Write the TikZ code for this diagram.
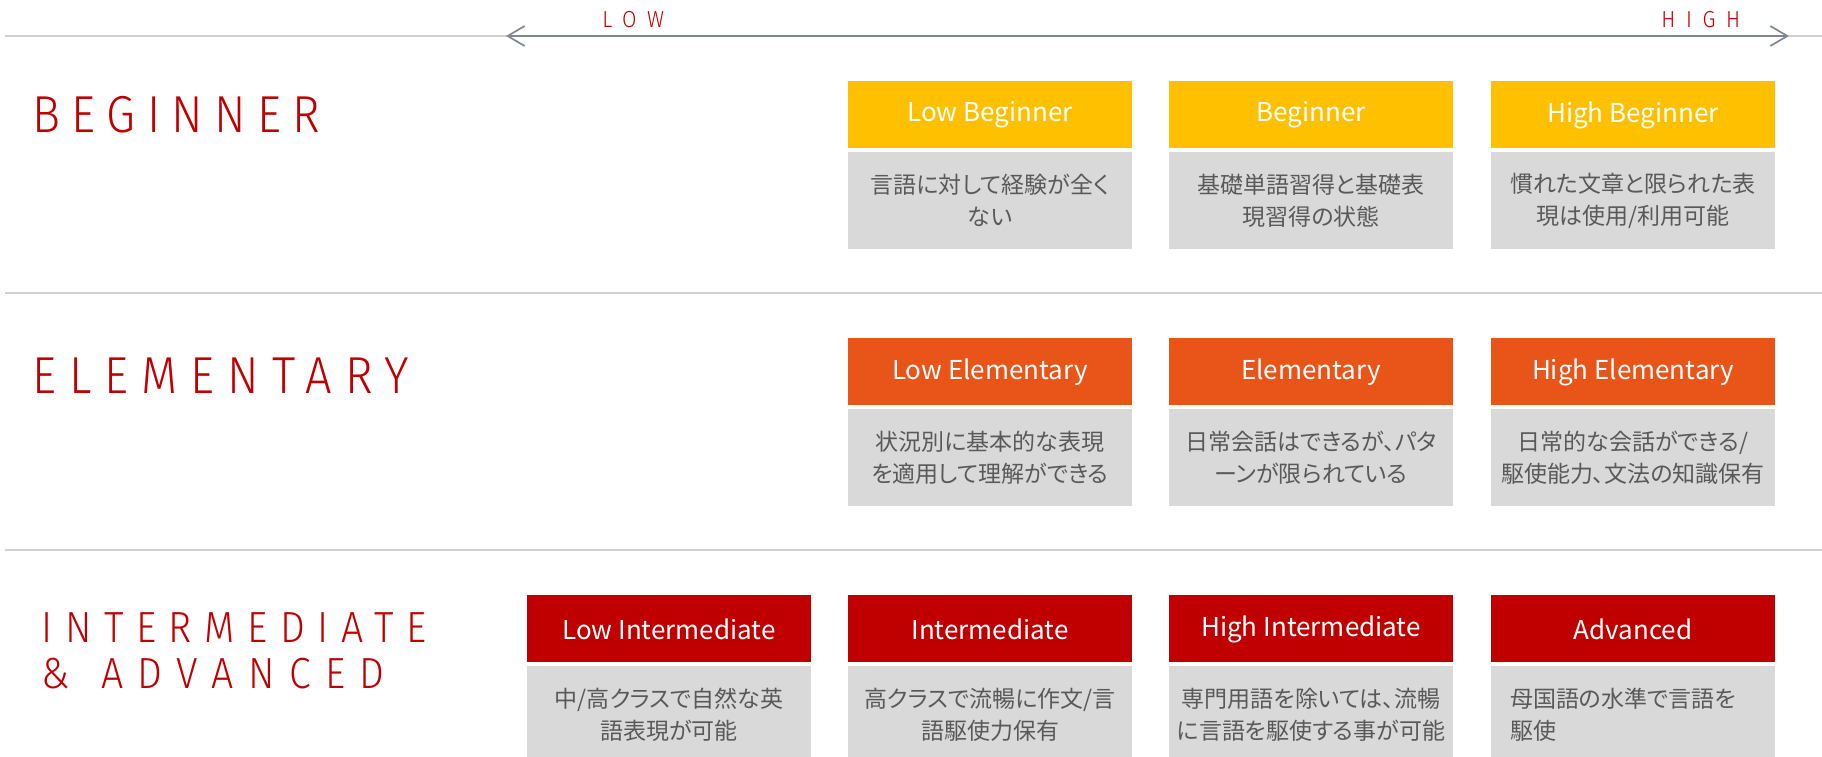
\documentclass[tikz,border=0pt]{standalone}
\usepackage{fontspec}
\usepackage{xcolor}
\usetikzlibrary{arrows.meta}
\newfontfamily\titlefont{Fira Sans Light}[FakeStretch=0.9,LetterSpace=22]
\newfontfamily\widetitlefont{Fira Sans Light}[FakeStretch=0.9,LetterSpace=25]
\newfontfamily\intertitlefont{Fira Sans Light}[FakeStretch=0.9,LetterSpace=29]
\newfontfamily\advtitlefont{Fira Sans Light}[FakeStretch=0.9,LetterSpace=33]
\newfontfamily\scalefont{Fira Sans Light}[FakeStretch=0.9,LetterSpace=46]
\newfontfamily\jpfont{Noto Sans CJK JP}[RawFeature=+palt]
\definecolor{beginyellow}{RGB}{255,192,0}
\definecolor{elemorange}{RGB}{233,85,24}
\definecolor{interred}{RGB}{192,0,0}
\definecolor{titlered}{RGB}{192,0,0}
\definecolor{descgray}{RGB}{217,217,217}
\definecolor{desctext}{RGB}{89,89,89}
\definecolor{rulegray}{RGB}{208,208,208}
\definecolor{arrowgray}{RGB}{127,136,146}
\newcommand{\levelcard}[7][]{
    % #1 = extra description style, #2 = node name, #3 = x centre, #4 = y top
    % #5 = header colour, #6 = header text, #7 = description
    \node[levelhead,fill=#5,anchor=north] (#2) at (#3,#4) {#6};
    \node[leveldesc,anchor=north,#1] (#2-desc) at ([yshift=-1.5pt]#2.south) {#7};
}

\begin{document}
\begin{tikzpicture}[x=0.5pt,y=-0.5pt,
    levelhead/.style={minimum width=142pt,minimum height=33.5pt,inner sep=0pt,
        text=white,font=\jpfont\fontsize{13}{15}\selectfont},
    leveldesc/.style={fill=descgray,minimum width=142pt,minimum height=48.5pt,inner sep=0pt,
        text=desctext,align=center,font=\jpfont\fontsize{11.5}{16}\selectfont},
    rowtitle/.style={anchor=base west,inner sep=0pt,text=titlered,
        font=\titlefont\fontsize{26}{30}\selectfont},
    intertitle/.style={anchor=base west,inner sep=0pt,text=titlered,
        font=\intertitlefont\fontsize{21.8}{23}\selectfont},
    scalelabel/.style={anchor=base west,inner sep=0pt,text=titlered,
        font=\scalefont\fontsize{11.6}{13}\selectfont},
    scalearrow/.style={arrowgray,line width=0.85pt,
        {Straight Barb[length=8.5pt,width=10pt]}-{Straight Barb[length=8.5pt,width=10pt]}}]

\clip (0,0) rectangle (1822,756);

% Row separators
\foreach \y in {36,293,550}
    \draw[rulegray,line width=0.8pt] (5,\y) -- (1822,\y);

% Low to high scale
\coordinate (lowend) at (506,36);
\coordinate (highend) at (1789,36);
\draw[scalearrow] (lowend) -- (highend);
\node[scalelabel] (lowlabel) at (602,27) {LOW};
\node[scalelabel] (highlabel) at (1661,27) {HIGH};

% Row titles
\node[rowtitle] (begintitle) at (32,132) {BEGINNER};
\node[rowtitle,font=\widetitlefont\fontsize{26}{30}\selectfont] (elemtitle) at (32,393) {ELEMENTARY};
\node[intertitle] (intertitle) at (41,642) {INTERMEDIATE};
\node[intertitle,font=\advtitlefont\fontsize{21.8}{23}\selectfont] (advtitle) at (41,688) {\&\hspace{3pt} ADVANCED};

% Beginner
\levelcard{lowbeg}{990}{81}{beginyellow}{Low Beginner}{言語に対して経験が全く\\ない}
\levelcard{beg}{1311}{81}{beginyellow}{Beginner}{基礎単語習得と基礎表\\現習得の状態}
\levelcard{highbeg}{1633}{81}{beginyellow}{High Beginner}{慣れた文章と限られた表\\現は使用/利用可能}

% Elementary
\levelcard{lowelem}{990}{338}{elemorange}{Low Elementary}{状況別に基本的な表現\\を適用して理解ができる}
\levelcard{elem}{1311}{338}{elemorange}{Elementary}{日常会話はできるが、パタ\\ーンが限られている}
\levelcard{highelem}{1633}{338}{elemorange}{High Elementary}{日常的な会話ができる/\\駆使能力、文法の知識保有}

% Intermediate and advanced
\levelcard{lowinter}{669}{595}{interred}{Low Intermediate}{中/高クラスで自然な英\\語表現が可能}
\levelcard{inter}{990}{595}{interred}{Intermediate}{高クラスで流暢に作文/言\\語駆使力保有}
\levelcard{highinter}{1311}{595}{interred}{High Intermediate}{専門用語を除いては、流暢\\に言語を駆使する事が可能}
\levelcard[align=left,text width=123pt]{adv}{1633}{595}{interred}{Advanced}{母国語の水準で言語を\\駆使}

\end{tikzpicture}
\end{document}
